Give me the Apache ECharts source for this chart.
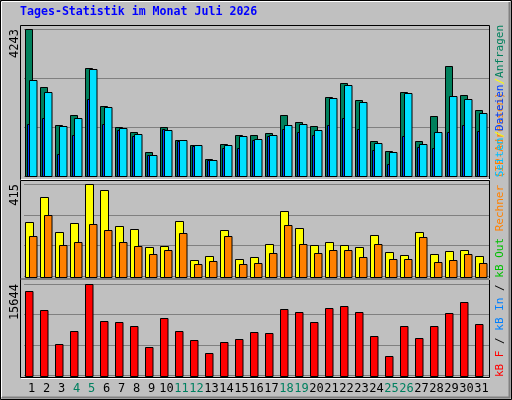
<!DOCTYPE html>
<html><head><meta charset="utf-8">
<script src="https://cdn.jsdelivr.net/npm/echarts@6/dist/echarts.min.js"></script>
<style>html,body{margin:0;padding:0;background:#c0c0c0}#c{width:512px;height:400px}</style>
</head><body><div id="c"></div>
<script>
const days = Array.from({length:31},(_,i)=>String(i+1));
const weekend = ['4','5','11','12','18','19','25','26'];
const hits  = [4243,2560,1463,1751,3108,2011,1405,1261,684,1405,1030,886,482,915,1174,1174,1232,1751,1550,1434,2271,2675,2185,1001,713,2415,1001,1723,3166,2329,1896];
const pages = [2762,2415,1434,1674,3079,1982,1376,1203,597,1319,1030,886,453,886,1145,1059,1174,1463,1492,1319,2242,2618,2127,944,684,2387,915,1261,2300,2214,1809];
const files = [1492,1665,635,1183,2222,1492,1328,1155,597,1357,1001,857,453,799,799,1030,1145,1348,1261,1183,1463,1665,1348,742,338,1145,828,799,1261,1463,1290];
const visits= [244,357,199,240,415,388,226,213,132,136,249,73,91,208,78,87,145,294,217,141,154,141,132,186,109,96,199,100,114,118,91];
const sites = [181,276,141,154,235,208,154,136,100,118,195,55,69,181,55,60,105,231,145,105,118,118,87,145,78,78,177,64,73,100,60];
const kbytes= [14445,11191,5367,7594,15644,9307,9135,8450,4853,9820,7594,6052,3825,5710,6223,7422,7251,11362,10848,9135,11533,11876,10848,6737,3312,8450,6395,8450,10677,12561,8793];
const maxTop = Math.max(...hits), maxMid = Math.max(...visits), maxBot = Math.max(...kbytes);

const chart = echarts.init(document.getElementById('c'));
function bars(arr, off, w, color, gi){
  return {type:'custom', xAxisIndex:gi, yAxisIndex:gi, data:arr.map((v,i)=>[i,v]),
    renderItem:(p,api)=>{
      const p0=api.coord([api.value(0),0]), p1=api.coord([api.value(0),api.value(1)]);
      const band=api.size([1,0])[0];
      return {type:'rect', shape:{x:Math.round(p0[0]-band/2+off)+0.5, y:Math.round(p1[1])+0.5, width:w, height:Math.round(p0[1])-Math.round(p1[1])},
        style:{fill:color, stroke:'#000', lineWidth:1}};
    }};
}
const grids=[{left:24,width:465,top:29,height:147},{left:24,width:465,top:184,height:92.5},{left:24,width:465,top:284,height:91.5}];
const maxes=[maxTop,maxMid,maxBot];
const rich={n:{color:'#000',fontFamily:'DejaVu Sans Mono',fontSize:12},w:{color:'#008060',fontFamily:'DejaVu Sans Mono',fontSize:12}};
const mono='DejaVu Sans Mono';
chart.setOption({
  animation:false, backgroundColor:'#c0c0c0',
  grid:grids,
  xAxis:grids.map((g,i)=>({type:'category',gridIndex:i,data:days,axisLine:{show:false},axisTick:{show:false},
    axisLabel:{show:i===2,margin:7,interval:0,formatter:v=>weekend.includes(v)?'{w|'+v+'}':'{n|'+v+'}',rich}})),
  yAxis:grids.map((g,i)=>({type:'value',gridIndex:i,min:0,max:maxes[i],interval:maxes[i]/3,axisLabel:{show:false},
    axisLine:{show:false},axisTick:{show:false},splitLine:{show:true,lineStyle:{color:'#808080',width:1}}})),
  series:[
    bars(hits,1,7,'#00805c',0), bars(files,3,2.5,'#0040ff',0), bars(pages,5,7.5,'#00e0ff',0),
    bars(visits,1,8,'#ffff00',1), bars(sites,5,7.5,'#ff8000',1),
    bars(kbytes,1,7.5,'#ff0000',2)
  ],
  graphic:[
    {type:'rect',z:-1,shape:{x:0.5,y:0.5,width:511,height:399},style:{fill:null,stroke:'#000',lineWidth:1}},
    {type:'line',shape:{x1:2,y1:397.5,x2:510,y2:397.5},style:{stroke:'#808080',lineWidth:2}},
    {type:'line',shape:{x1:509.5,y1:2,x2:509.5,y2:398},style:{stroke:'#808080',lineWidth:2}},
    {type:'line',shape:{x1:2,y1:1.5,x2:510,y2:1.5},style:{stroke:'#fff',lineWidth:1}},
    {type:'line',shape:{x1:1.5,y1:2,x2:1.5,y2:397},style:{stroke:'#fff',lineWidth:1}},
    {type:'rect',z:100,shape:{x:20.5,y:25.5,width:469,height:154},style:{fill:null,stroke:'#000',lineWidth:1}},
    {type:'rect',z:100,shape:{x:20.5,y:180.5,width:469,height:98},style:{fill:null,stroke:'#000',lineWidth:1}},
    {type:'rect',z:100,shape:{x:20.5,y:279.5,width:469,height:98},style:{fill:null,stroke:'#000',lineWidth:1}},
    {type:'line',z:101,shape:{x1:21,y1:179.5,x2:490,y2:179.5},style:{stroke:'#fff',lineWidth:1}},
    {type:'line',z:101,shape:{x1:21,y1:279,x2:490,y2:279},style:{stroke:'#fff',lineWidth:1}},
    {type:'line',z:101,shape:{x1:21,y1:378.5,x2:490,y2:378.5},style:{stroke:'#fff',lineWidth:1}},
    {type:'text',left:20,top:6,style:{text:'Tages-Statistik im Monat Juli 2026',fill:'#0000ff',font:'bold 11.6px "DejaVu Sans Mono"'}},
    {type:'text',x:15,y:29,rotation:Math.PI/2,style:{text:String(maxTop),fill:'#000',font:'12px "DejaVu Sans Mono"',textAlign:'right',textVerticalAlign:'middle'}},
    {type:'text',x:15,y:184,rotation:Math.PI/2,style:{text:String(maxMid),fill:'#000',font:'12px "DejaVu Sans Mono"',textAlign:'right',textVerticalAlign:'middle'}},
    {type:'text',x:15,y:284,rotation:Math.PI/2,style:{text:String(maxBot),fill:'#000',font:'12px "DejaVu Sans Mono"',textAlign:'right',textVerticalAlign:'middle'}},
    {type:'text',x:500,y:377,rotation:Math.PI/2,style:{text:'{r|kB F} {k|/} {b|kB In} {k|/} {g|kB Out} {o|Rechner (IP-Adressen)}',
      textAlign:'left',textVerticalAlign:'middle',font:'11px "DejaVu Sans Mono"',
      rich:{r:{fill:'#ff0000',font:'11px "DejaVu Sans Mono"'},b:{fill:'#0080ff',font:'11px "DejaVu Sans Mono"'},g:{fill:'#00c000',font:'11px "DejaVu Sans Mono"'},
        o:{fill:'#ff8000',font:'11px "DejaVu Sans Mono"'},k:{fill:'#000',font:'11px "DejaVu Sans Mono"'}}}},
    {type:'text',x:500,y:25,rotation:Math.PI/2,style:{text:'{c|Seiten}{y|/}{b|Dateien}{y|/}{g|Anfragen}',
      textAlign:'right',textVerticalAlign:'middle',font:'11px "DejaVu Sans Mono"',
      rich:{c:{fill:'#00c0ff',font:'11px "DejaVu Sans Mono"'},b:{fill:'#0040ff',font:'11px "DejaVu Sans Mono"'},g:{fill:'#00805c',font:'11px "DejaVu Sans Mono"'},
        y:{fill:'#ffff00',font:'11px "DejaVu Sans Mono"'}}}}
  ]
});
</script></body></html>
